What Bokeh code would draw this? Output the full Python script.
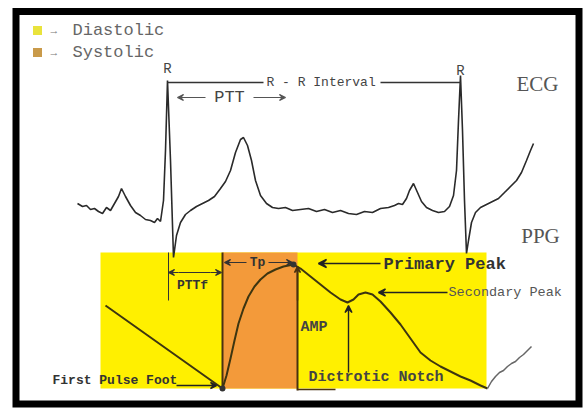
from bokeh.plotting import figure
from bokeh.models import Range1d, Arrow, VeeHead
from bokeh.core.properties import value
from bokeh.embed import file_html
from bokeh.resources import INLINE

# ECG trace (image pixel coordinates, y grows downward)
ecg_x = [77, 82, 86, 90, 94, 98, 102, 106, 110, 114, 118, 121, 125, 130, 135, 140, 145, 150, 154, 157,
         160, 163, 165, 167, 170, 173, 176, 180, 185, 190, 196, 202, 208, 214, 220, 225, 230, 235, 240, 243,
         247, 251, 255, 260, 266, 272, 278, 285, 292, 300, 308, 316, 324, 332, 340, 348, 356, 364, 372, 380,
         388, 394, 398, 402, 406, 409, 413, 417, 421, 426, 432, 438, 444, 449, 453, 456, 458, 460, 462, 464,
         466, 468, 471, 475, 480, 486, 492, 498, 504, 510, 516, 521, 526, 530, 533]
ecg_y = [203, 206, 205, 209, 208, 211, 213, 207, 210, 203, 196, 188, 196, 205, 212, 215, 219, 220, 222, 218,
         221, 200, 150, 80, 160, 257, 235, 222, 214, 210, 206, 203, 200, 196, 188, 181, 170, 152, 139, 137,
         145, 160, 180, 195, 203, 207, 208, 207, 210, 209, 208, 211, 209, 212, 210, 213, 214, 211, 212, 208,
         207, 205, 203, 204, 198, 190, 183, 192, 201, 207, 210, 212, 211, 206, 195, 170, 120, 75, 130, 200,
         253, 240, 222, 212, 207, 204, 201, 198, 192, 186, 180, 172, 160, 150, 143]

# PPG pulse
ppg_x = [105, 222, 226, 230, 234, 238, 243, 248, 254, 260, 267, 275, 283, 293, 300, 310, 320, 330, 340, 347,
         353, 358, 365, 372, 380, 390, 400, 410, 420, 430, 440, 450, 460, 470, 480, 487]
ppg_y = [305, 388, 375, 358, 340, 323, 308, 296, 286, 279, 273, 269, 266, 264, 268, 276, 284, 292, 299, 302,
         299, 294, 292, 294, 301, 312, 324, 338, 352, 360, 366, 371, 376, 380, 385, 388]
tail_x = [487, 491, 495, 499, 503, 507, 511, 515, 519, 523, 527, 531]
tail_y = [388, 381, 376, 372, 370, 366, 363, 361, 357, 354, 350, 346]

legend_labels = ["Diastolic", "Systolic"]
legend_colors = ["#E9E33C", "#C99A4A"]

MONO = value("Liberation Mono")
SERIF = value("Liberation Serif")

p = figure(width=586, height=410, output_backend="svg", toolbar_location=None,
           x_range=Range1d(0, 586), y_range=Range1d(410, 0), min_border=0)
p.axis.visible = False
p.grid.visible = False
p.outline_line_color = None
p.background_fill_color = "white"

# regions
p.quad(left=[100], right=[486], top=[252], bottom=[388], fill_color="#FFF000", line_color=None)
p.quad(left=[222], right=[297], top=[252], bottom=[388], fill_color="#F39A3A", line_color=None)
p.segment(x0=[222, 297], y0=[252, 266], x1=[222, 297], y1=[390, 390], line_color="#4a3210", line_width=2)
p.segment(x0=[297], y0=[389], x1=[335], y1=[389], line_color="#4a3210", line_width=1.5)

# frame
p.quad(left=[15.5], right=[578.5], top=[11], bottom=[403.5], fill_color=None, line_color="black",
       line_width=7, line_join="miter")

# legend
p.rect(x=[37, 37], y=[30, 52], width=9, height=9, fill_color=legend_colors, line_color=None)
p.text(x=[50, 50], y=[30, 52], text=["→", "→"], text_font=MONO, text_font_size="11px",
       text_color="#777", text_baseline="middle")
p.text(x=[72, 72], y=[30, 52], text=legend_labels, text_font=MONO, text_font_size="17px",
       text_color="#666", text_baseline="middle")

# ECG
p.line(ecg_x, ecg_y, line_color="#2a2a2a", line_width=1.6)
p.segment(x0=[167, 380, 168], y0=[82, 82, 252], x1=[263, 460, 168], y1=[82, 82, 300],
          line_color="#333", line_width=[1.5, 1.5, 1])
p.text(x=[167, 460], y=[68, 70], text=["R", "R"], text_font=MONO, text_font_size="14px",
       text_color="#444", text_align="center", text_baseline="middle")
p.text(x=[266], y=[82], text=["R - R Interval"], text_font=MONO, text_font_size="13px",
       text_color="#444", text_baseline="middle")
p.text(x=[537, 540], y=[83, 235], text=["ECG", "PPG"], text_font=SERIF, text_font_size="21px",
       text_color="#555", text_align="center", text_baseline="middle")

# PTT
p.text(x=[229], y=[97], text=["PTT"], text_font=MONO, text_font_size="17px",
       text_color="#444", text_align="center", text_baseline="middle")

def arrow(x0, y0, x1, y1, color="#333", w=1.2, size=6):
    p.add_layout(Arrow(end=VeeHead(size=size, line_color=color, fill_color=color, line_width=w),
                       x_start=x0, y_start=y0, x_end=x1, y_end=y1, line_color=color, line_width=w))

arrow(205, 97, 177, 97, "#555")
arrow(253, 97, 285, 97, "#555")

# PPG
p.line(ppg_x, ppg_y, line_color="#3d3510", line_width=2)
p.line(tail_x, tail_y, line_color="#666", line_width=1.5)
p.scatter(x=[222, 293], y=[388, 264], size=6, marker="circle", fill_color="#333", line_color=None)

# PTTf
arrow(178, 272, 168, 272)
arrow(210, 272, 221, 272)
p.segment(x0=[178], y0=[272], x1=[210], y1=[272], line_color="#333", line_width=1.2)
p.text(x=[192], y=[285], text=["PTTf"], text_font=MONO, text_font_size="13px", text_font_style="bold",
       text_color="#333", text_align="center", text_baseline="middle")

# Tp
arrow(246, 262, 224, 262)
arrow(268, 262, 292, 262)
p.text(x=[257], y=[262], text=["Tp"], text_font=MONO, text_font_size="13px", text_font_style="bold",
       text_color="#333", text_align="center", text_baseline="middle")

# Primary peak
arrow(380, 263, 318, 263, "#222", 1.6, 8)
p.text(x=[383], y=[264], text=["Primary Peak"], text_font=MONO, text_font_size="17px",
       text_font_style="bold", text_color="#333", text_baseline="middle")

# Secondary peak
arrow(447, 292, 378, 292, "#222", 1.4, 7)
p.text(x=[448], y=[292], text=["Secondary Peak"], text_font=MONO, text_font_size="13.5px",
       text_color="#555", text_baseline="middle")

# AMP
arrow(297, 300, 297, 266, "#4a3210", 1.5, 6)
p.text(x=[300], y=[327], text=["AMP"], text_font=MONO, text_font_size="15px",
       text_font_style="bold", text_color="#444", text_baseline="middle")

# Dicrotic notch
arrow(348, 372, 348, 305, "#222", 1.4, 7)
p.text(x=[308], y=[377], text=["Dictrotic Notch"], text_font=MONO, text_font_size="15px",
       text_font_style="bold", text_color="#444", text_baseline="middle")

# First pulse foot
arrow(176, 385, 216, 385, "#222", 1.4, 6)
p.text(x=[52], y=[380], text=["First Pulse Foot"], text_font=MONO, text_font_size="13px",
       text_font_style="bold", text_color="#333", text_baseline="middle")

open("out.html", "w").write(file_html(p, INLINE))
